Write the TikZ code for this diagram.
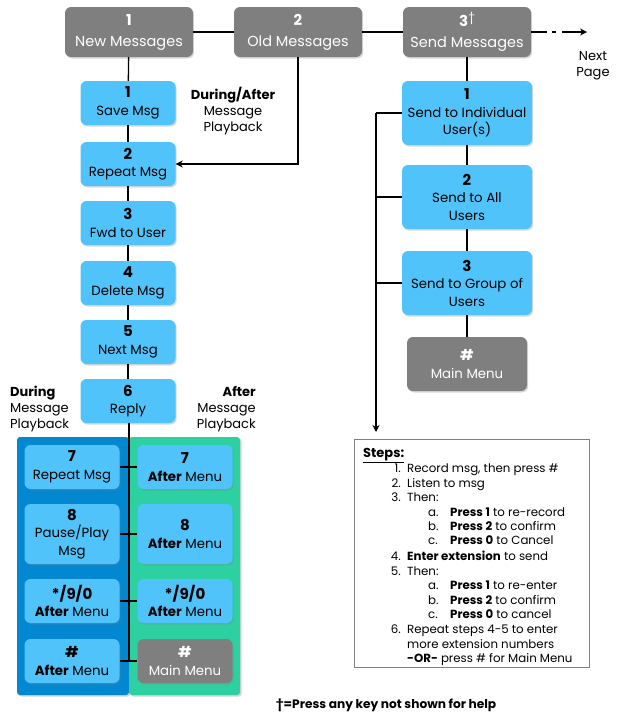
\documentclass[tikz,border=0pt]{standalone}
\usepackage{fontspec}
\setmainfont{Poppins}
\usetikzlibrary{shadows,arrows.meta,calc}
\definecolor{lblue}{RGB}{80,195,250}
\definecolor{mgray}{RGB}{127,127,127}
\definecolor{dblue}{RGB}{2,136,209}
\definecolor{pgreen}{RGB}{45,208,160}
\tikzset{
  shad/.style={drop shadow={opacity=0.3,shadow xshift=1.2pt,shadow yshift=-1.5pt}},
  topbox/.style={fill=mgray,rounded corners=6pt,minimum width=128pt,minimum height=50pt,text=white,align=center,font=\fontsize{14.5}{21}\selectfont,shad,inner sep=0pt},
  bbox/.style={fill=lblue,rounded corners=6pt,minimum width=95pt,minimum height=44pt,align=center,font=\fontsize{13.3}{17.5}\selectfont,shad,inner sep=0pt},
  sbox/.style={bbox,minimum width=130pt,minimum height=64pt},
  gbox/.style={bbox,fill=mgray,text=white},
  conn/.style={line width=1.3pt,black},
  arr/.style={conn,-{Stealth[length=7pt,width=7pt]}},
  lbl/.style={align=center,font=\fontsize{13}{16}\selectfont,inner sep=0pt},
  st/.style={anchor=base west,inner sep=0pt,font=\fontsize{11.8}{13}\selectfont},
  panel/.style={rounded corners=3pt,drop shadow={opacity=0.35,shadow xshift=1.5pt,shadow yshift=-1.5pt}}
}
\newcommand{\num}[1]{{\fontsize{15}{16}\selectfont\bfseries #1}}
\begin{document}
\begin{tikzpicture}[x=1pt,y=-1pt]
\useasboundingbox (0,0) rectangle (617,726);
% panels
\fill[dblue,panel] (17,437) rectangle (129,695);
\fill[pgreen,panel] (129,437) rectangle (240,695);
% top row
\node[topbox] (new) at (129,32) {\num{1}\\New Messages};
\node[topbox] (old) at (298,32) {\num{2}\\Old Messages};
\node[topbox] (send) at (467,32) {\num{3}\raisebox{5pt}{\fontsize{12}{12}\selectfont †}\\Send Messages};
\coordinate (nextp) at (587,32);
\node[lbl] (nextlbl) at (593,66) {Next\\Page};
% left column
\node[bbox] (save) at (128,103) {\num{1}\\Save Msg};
\node[bbox] (rep) at (128,164) {\num{2}\\Repeat Msg};
\node[bbox] (fwd) at (128,223) {\num{3}\\Fwd to User};
\node[bbox] (del) at (128,283) {\num{4}\\Delete Msg};
\node[bbox] (nxt) at (128,342) {\num{5}\\Next Msg};
\node[bbox] (rly) at (128,401) {\num{6}\\Reply};
\node[lbl] (dal) at (233,111) {\textbf{During/After}\\Message\\Playback};
\node[lbl,align=left,anchor=west] (dlbl) at (10,409) {\textbf{During}\\Message\\Playback};
\node[lbl,align=right,anchor=east] (albl) at (256,409) {\textbf{After}\\Message\\Playback};
% panel boxes
\node[bbox] (l1) at (72,467) {\num{7}\\Repeat Msg};
\node[bbox,minimum height=60pt] (l2) at (72,534) {\num{8}\\Pause/Play\\Msg};
\node[bbox] (l3) at (72,601) {\num{*/9/0}\\\textbf{After} Menu};
\node[bbox] (l4) at (72,661) {\num{\#}\\\textbf{After} Menu};
\node[bbox] (r1) at (185,467) {\num{7}\\\textbf{After} Menu};
\node[bbox,minimum height=60pt] (r2) at (185,534) {\num{8}\\\textbf{After} Menu};
\node[bbox] (r3) at (185,601) {\num{*/9/0}\\\textbf{After} Menu};
\node[gbox] (r4) at (185,661) {\num{\#}\\Main Menu};
\coordinate (cbot) at (129,662);
% right column
\node[sbox] (ind) at (467,113) {\num{1}\\Send to Individual\\User(s)};
\node[sbox] (all) at (467,197) {\num{2}\\Send to All\\Users};
\node[sbox] (grp) at (467,283) {\num{3}\\Send to Group of\\Users};
\node[gbox,minimum width=120pt,minimum height=54pt] (mm) at (467,364) {\num{\#}\\Main Menu};
\coordinate (vtop) at (376,113);
\coordinate (vbot) at (376,432);
% connectors
\draw[conn] (new) -- (old);
\draw[conn] (old) -- (send);
\draw[conn,dash pattern=on 16pt off 5pt on 4pt off 6pt on 40pt off 1pt,-{Stealth[length=7pt,width=7pt]}] (send.east) -- (nextp);
\draw[conn] (new) -- (save);
\draw[conn] (save) -- (rep);
\draw[conn] (rep) -- (fwd);
\draw[conn] (fwd) -- (del);
\draw[conn] (del) -- (nxt);
\draw[conn] (nxt) -- (rly);
\draw[conn] (rly.south -| cbot) -- (cbot);
\draw[arr] (old.south) |- (rep.east);
\draw[conn] (l1) -- (r1);
\draw[conn] (l2) -- (r2);
\draw[conn] (l3) -- (r3);
\draw[conn] (l4) -- (r4);
\draw[conn] (send) -- (ind);
\draw[conn] (ind) -- (all);
\draw[conn] (all) -- (grp);
\draw[conn] (grp) -- (mm);
\draw[conn] (ind.west) -- (vtop);
\draw[arr] (vtop) -- (vbot);
\draw[conn] (all.west) -- (all.west -| vtop);
\draw[conn] (grp.west) -- (grp.west -| vtop);
% steps box
\node[draw=mgray,line width=0.8pt,minimum width=235pt,minimum height=228pt,inner sep=0pt] (steps) at (471.5,553) {};
\node[st,font=\fontsize{13}{14}\selectfont] (s0) at (363,457) {\textbf{\underline{Steps:}}};
\node[st,anchor=base east] (n1) at (401,472) {1.};
\node[st] (t1) at (407,472) {Record msg, then press \#};
\node[st,anchor=base east] (n2) at (401,487) {2.};
\node[st] (t2) at (407,487) {Listen to msg};
\node[st,anchor=base east] (n3) at (401,501) {3.};
\node[st] (t3) at (407,501) {Then:};
\node[st] (a1) at (428,516) {a.};
\node[st] (ta1) at (450,516) {\textbf{Press 1} to re-record};
\node[st] (b1) at (428,530) {b.};
\node[st] (tb1) at (450,530) {\textbf{Press 2} to confirm};
\node[st] (c1) at (428,544) {c.};
\node[st] (tc1) at (450,544) {\textbf{Press 0} to Cancel};
\node[st,anchor=base east] (n4) at (401,560) {4.};
\node[st] (t4) at (407,560) {\textbf{Enter extension} to send};
\node[st,anchor=base east] (n5) at (401,575) {5.};
\node[st] (t5) at (407,575) {Then:};
\node[st] (a2) at (428,589) {a.};
\node[st] (ta2) at (450,589) {\textbf{Press 1} to re-enter};
\node[st] (b2) at (428,604) {b.};
\node[st] (tb2) at (450,604) {\textbf{Press 2} to confirm};
\node[st] (c2) at (428,618) {c.};
\node[st] (tc2) at (450,618) {\textbf{Press 0} to cancel};
\node[st,anchor=base east] (n6) at (401,633) {6.};
\node[st] (t6) at (407,633) {Repeat steps 4-5 to enter};
\node[st] (t7) at (407,648) {more extension numbers};
\node[st] (t8) at (407,662) {\textbf{-OR-} press \# for Main Menu};
\node[font=\fontsize{12.2}{13}\selectfont\bfseries,inner sep=0pt] (foot) at (386,705) {†=Press any key not shown for help};
\end{tikzpicture}
\end{document}
